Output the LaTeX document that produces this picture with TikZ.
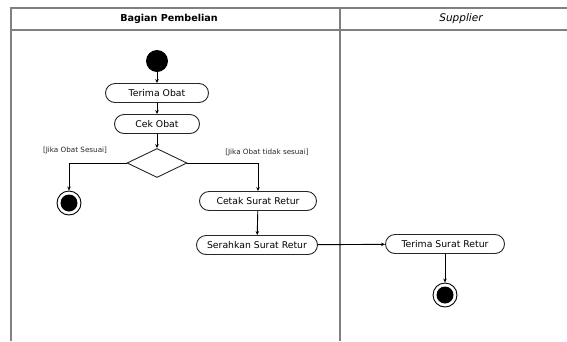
\documentclass[tikz,border=0pt]{standalone}
\usepackage{fontspec}
\setmainfont{DejaVu Sans}
\usetikzlibrary{shapes.geometric,arrows.meta}
\begin{document}
\begin{tikzpicture}[x=1pt,y=-1pt,
  lane/.style={draw=black!50,line width=1.3pt},
  act/.style={draw=black!85,line width=0.9pt,rounded corners=9.5pt,
    minimum height=19pt,inner sep=1pt,font=\fontsize{9.3}{10}\selectfont},
  startnode/.style={circle,fill=black,minimum size=22pt,inner sep=0pt},
  endnode/.style={circle,draw=black,line width=0.9pt,minimum size=24pt,inner sep=0pt,
    path picture={\fill[black] (path picture bounding box.center) circle (8.5pt);}},
  choice/.style={diamond,draw=black!85,line width=0.9pt,minimum width=60pt,
    minimum height=29pt,inner sep=0pt},
  guard/.style={font=\fontsize{7.2}{8}\selectfont,text=black!85},
  flow/.style={draw=black,line width=0.9pt,-{Stealth[length=4pt,width=3.5pt]}}
]
\useasboundingbox (0,0) rectangle (567,341);
\clip (0,0) rectangle (567,341);

% swimlanes
\draw[lane] (11,341) -- (11,8) -- (600,8);
\draw[lane] (11,30) -- (600,30);
\draw[lane] (340,8) -- (340,341);
\node[font=\fontsize{9.6}{10}\selectfont\bfseries] (h1) at (169,19) {Bagian Pembelian};
\node[font=\fontsize{10.5}{11}\selectfont\itshape] (h2) at (461,19) {Supplier};

% activities
\node[startnode] (start) at (157,61) {};
\node[act,minimum width=103pt] (terima) at (157,93) {Terima Obat};
\node[act,minimum width=85pt] (cek) at (157,124) {Cek Obat};
\node[choice] (dec) at (157,163) {};
\node[endnode] (end1) at (69,203) {};
\node[act,minimum width=117pt] (cetak) at (258,201) {Cetak Surat Retur};
\node[act,minimum width=121pt] (serah) at (257,245) {Serahkan Surat Retur};
\node[act,minimum width=119pt] (tsr) at (445,244) {Terima Surat Retur};
\node[endnode] (end2) at (445,295) {};

% guards
\node[guard] (g1) at (75,150) {[Jika Obat Sesuai]};
\node[guard] (g2) at (267,152) {[Jika Obat tidak sesuai]};

% flows
\draw[flow] (start) -- (terima);
\draw[flow] (terima) -- (cek);
\draw[flow] (cek) -- (dec);
\draw[flow] (dec.west) -| (end1.north);
\draw[flow] (dec.east) -| (cetak.north);
\draw[flow] (cetak) -- (serah);
\draw[flow] (serah) -- (tsr);
\draw[flow] (tsr) -- (end2);
\end{tikzpicture}
\end{document}
